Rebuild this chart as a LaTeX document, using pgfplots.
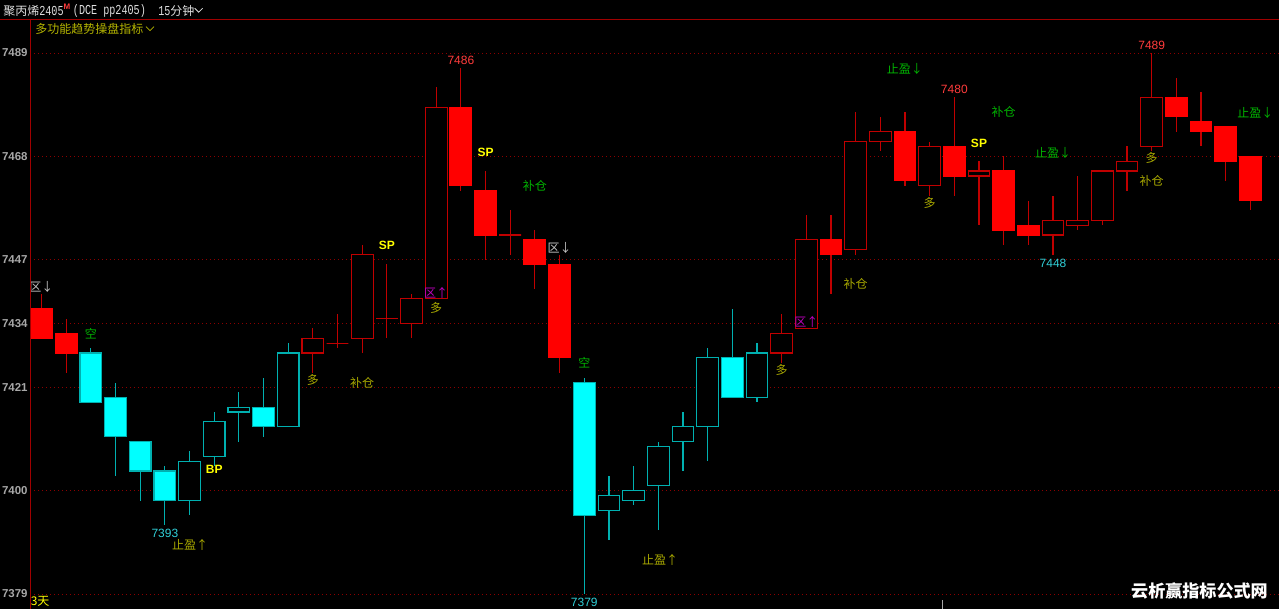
\documentclass[border=0pt]{standalone}
\usepackage{fontspec}
\setmainfont{Liberation Sans}
\newfontfamily\cjk{Noto Sans CJK SC}
\newfontfamily\mono{Liberation Mono}
\usepackage{graphicx}
\usepackage{pgfplots}
\pgfplotsset{compat=1.18}
\usepackage{pgfplotstable}
\usepgfplotslibrary{statistics}
\definecolor{bodyR}{HTML}{FF0000}
\definecolor{outR}{HTML}{C00000}
\definecolor{bodyC}{HTML}{00FFFF}
\definecolor{outC}{HTML}{00B0B0}
\definecolor{gridR}{HTML}{8C0000}
\definecolor{axR}{HTML}{A00000}
\definecolor{tickgray}{HTML}{A8A8A8}
\definecolor{olv}{HTML}{A8A800}
\definecolor{olvh}{HTML}{B4B400}
\definecolor{sgreen}{HTML}{00B400}
\definecolor{yel}{HTML}{FFFF00}
\definecolor{pred}{HTML}{FF3C3C}
\definecolor{pcyan}{HTML}{30D0D8}
\definecolor{gray8}{HTML}{C8C8C8}
\definecolor{mag}{HTML}{C000C0}
\definecolor{hdr}{HTML}{E0E0E0}
\newcommand\fs[1]{\fontsize{#1}{#1}\selectfont}
\newcommand\tall[1]{\scalebox{1}[1.35]{#1}}

% type: 1 red filled, 2 red hollow, 3 cyan filled, 4 cyan hollow
\pgfplotstableread{
i O H L C t
0 7437 7440 7431 7431 1
1 7432 7435 7424 7428 1
2 7428 7429 7418 7418 3
3 7419 7422 7403 7411 3
4 7410 7410 7398 7404 3
5 7404 7405 7393 7398 3
6 7398 7408 7395 7406 4
7 7407 7416 7405 7414 4
8 7416 7420 7410 7417 4
9 7417 7423 7411 7413 3
10 7413 7430 7413 7428 4
11 7428 7433 7424 7431 2
12 7430 7436 7429 7430 2
13 7431 7450 7428 7448 2
14 7435 7446 7431 7435 2
15 7434 7440 7431 7439 2
16 7439 7482 7439 7478 2
17 7478 7486 7461 7462 1
18 7461 7465 7447 7452 1
19 7452 7457 7448 7452 2
20 7451 7453 7441 7446 1
21 7446 7448 7424 7427 1
22 7422 7423 7379 7395 3
23 7396 7403 7390 7399 4
24 7398 7405 7397 7400 4
25 7401 7410 7392 7409 4
26 7410 7416 7404 7413 4
27 7413 7429 7406 7427 4
28 7427 7437 7419 7419 3
29 7419 7430 7418 7428 4
30 7428 7436 7426 7432 2
31 7433 7456 7433 7451 2
32 7451 7456 7440 7448 1
33 7449 7477 7448 7471 2
34 7471 7476 7469 7473 2
35 7473 7477 7462 7463 1
36 7462 7471 7460 7470 2
37 7470 7480 7460 7464 1
38 7464 7467 7454 7465 2
39 7465 7468 7450 7453 1
40 7454 7459 7450 7452 1
41 7452 7460 7448 7455 2
42 7454 7464 7453 7455 2
43 7455 7465 7454 7465 2
44 7465 7470 7461 7467 2
45 7470 7489 7469 7480 2
46 7480 7484 7473 7476 1
47 7475 7481 7470 7473 1
48 7474 7474 7463 7467 1
49 7468 7468 7457 7459 1
}\candles

\pgfplotsset{
  candle/.style={boxplot/draw direction=y, boxplot/box extend=0.88, boxplot/whisker extend=0, line width=0.85pt, solid, mark=none},
  c1/.style={candle, draw=outR, boxplot/every box/.style={draw=bodyR, fill=bodyR}, boxplot/every whisker/.style={draw=outR}, boxplot/every median/.style={draw=bodyR}},
  c2/.style={candle, draw=outR, boxplot/every box/.style={draw=outR, fill=black}, boxplot/every whisker/.style={draw=outR}, boxplot/every median/.style={draw=outR}},
  c3/.style={candle, draw=outC, boxplot/every box/.style={draw=outC, fill=bodyC}, boxplot/every whisker/.style={draw=outC}, boxplot/every median/.style={draw=outC}},
  c4/.style={candle, draw=outC, boxplot/every box/.style={draw=outC, fill=black}, boxplot/every whisker/.style={draw=outC}, boxplot/every median/.style={draw=outC}},
}
\newcommand{\cl}[4]{\node[inner sep=0pt, text=#3] at (axis cs:#1,#2) {#4};}

\begin{document}
\begin{tikzpicture}
\fill[black] (0,0) rectangle (959.25pt,456.75pt);
\useasboundingbox (0,0) rectangle (959.25pt,456.75pt);
\begin{axis}[
  at={(22.5pt,0pt)}, anchor=south west,
  scale only axis, width=936.75pt, height=441.75pt,
  xmin=-0.466, xmax=50.16, ymin=7375.95, ymax=7495.71,
  clip=false,
  axis line style={draw=none},
  xtick=\empty,
  ytick={7379,7400,7421,7434,7447,7468,7489},
  yticklabels={7379,7400,7421,7434,7447,7468,7489},
  major tick length=0pt,
  ymajorgrids,
  grid style={color=gridR, line width=0.6pt, dash pattern=on 0.9pt off 2.1pt},
  yticklabel style={text=tickgray, font=\bfseries\fs{8.6}, anchor=east, inner sep=0pt, xshift=-1.6pt},
]
\pgfplotsinvokeforeach{0,...,49}{
  \pgfplotstablegetelem{#1}{O}\of\candles \let\vO\pgfplotsretval
  \pgfplotstablegetelem{#1}{C}\of\candles \let\vC\pgfplotsretval
  \pgfplotstablegetelem{#1}{H}\of\candles \let\vH\pgfplotsretval
  \pgfplotstablegetelem{#1}{L}\of\candles \let\vL\pgfplotsretval
  \pgfplotstablegetelem{#1}{t}\of\candles \let\vT\pgfplotsretval
  \ifnum\vO<\vC\relax \let\vlo\vO \let\vhi\vC \else \let\vlo\vC \let\vhi\vO \fi
  \edef\temp{\noexpand\addplot[c\vT, boxplot prepared={draw position=#1, lower whisker=\vL, lower quartile=\vlo, median=\vlo, upper quartile=\vhi, upper whisker=\vH}] coordinates {};}
  \temp
}
\cl{0}{7441.4}{gray8}{\cjk\fs{9}区↓}
\cl{2}{7431.9}{sgreen}{\cjk\fs{9}空}
\cl{5}{7391.4}{pcyan}{\fs{9}7393}
\cl{6.02}{7389}{olv}{\cjk\fs{9}止盈↑}
\cl{7}{7404.4}{yel}{\bfseries\fs{9}BP}
\cl{11}{7422.5}{olv}{\cjk\fs{9}多}
\cl{13}{7421.9}{olv}{\cjk\fs{9}补仓}
\cl{14}{7449.8}{yel}{\bfseries\fs{9}SP}
\cl{16}{7440.2}{mag}{\cjk\fs{9}区↑}
\cl{16}{7437.2}{olv}{\cjk\fs{9}多}
\cl{17}{7487.6}{pred}{\fs{9}7486}
\cl{18}{7468.7}{yel}{\bfseries\fs{9}SP}
\cl{20}{7462}{sgreen}{\cjk\fs{9}补仓}
\cl{21}{7449.4}{gray8}{\cjk\fs{9}区↓}
\cl{22}{7426}{sgreen}{\cjk\fs{9}空}
\cl{22}{7377.2}{pcyan}{\fs{9}7379}
\cl{25.07}{7385.9}{olv}{\cjk\fs{9}止盈↑}
\cl{30}{7424.5}{olv}{\cjk\fs{9}多}
\cl{31}{7434.3}{mag}{\cjk\fs{9}区↑}
\cl{33}{7442}{olv}{\cjk\fs{9}补仓}
\cl{35}{7485.7}{sgreen}{\cjk\fs{9}止盈↓}
\cl{37}{7481.7}{pred}{\fs{9}7480}
\cl{39}{7477}{sgreen}{\cjk\fs{9}补仓}
\cl{38}{7470.7}{yel}{\bfseries\fs{9}SP}
\cl{36}{7458.5}{olv}{\cjk\fs{9}多}
\cl{41}{7468.7}{sgreen}{\cjk\fs{9}止盈↓}
\cl{41}{7446.3}{pcyan}{\fs{9}7448}
\cl{45}{7467.7}{olv}{\cjk\fs{9}多}
\cl{45}{7463}{olv}{\cjk\fs{9}补仓}
\cl{45}{7490.6}{pred}{\fs{9}7489}
\cl{49.2}{7476.8}{sgreen}{\cjk\fs{9}止盈↓}
\end{axis}
% frame lines
\draw[axR, line width=0.75pt] (0,441.75pt) -- (959.25pt,441.75pt);
\draw[axR, line width=0.75pt] (22.5pt,0) -- (22.5pt,441.75pt);
% header
\node[anchor=west, inner sep=0pt, text=hdr] at (2.25pt,448.5pt) {\cjk\fs{9}聚丙烯\mono\fs{7.6}\tall{2405}};
\node[anchor=west, inner sep=0pt, text=pred] at (47.6pt,452pt) {\fs{6}\bfseries M};
\node[anchor=west, inner sep=0pt, text=hdr] at (54.5pt,448.5pt) {\mono\fs{7.6}\tall{(DCE pp2405)}};
\node[anchor=west, inner sep=0pt, text=hdr] at (118.5pt,448.5pt) {\mono\fs{7.6}\tall{15}\cjk\fs{9}分钟};
\draw[hdr, line width=0.6pt] (146pt,450.6pt) -- (149pt,447.6pt) -- (152pt,450.6pt);
\node[anchor=west, inner sep=0pt, text=olvh] at (26.25pt,435pt) {\cjk\fs{9}多功能趋势操盘指标};
\draw[olvh, line width=0.6pt] (109.5pt,436.8pt) -- (112.5pt,433.8pt) -- (115.5pt,436.8pt);
% bottom
\node[anchor=west, inner sep=0pt, text=yel] at (22.9pt,6pt) {\cjk\fs{9}3天};
\draw[tickgray, line width=0.6pt] (706.5pt,0) -- (706.5pt,6.75pt);
\node[anchor=east, inner sep=0pt, text=white] at (951pt,13.5pt) {\cjk\bfseries\fs{12.8}云析赢指标公式网};
\end{tikzpicture}
\end{document}
